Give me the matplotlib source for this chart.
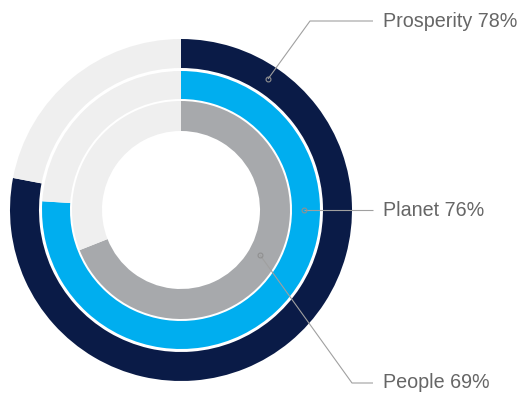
import matplotlib.pyplot as plt

# ring data (percent complete), outer -> inner
labels = ['Prosperity', 'Planet', 'People']
values = [78, 76, 69]
colors = ['#0a1b47', '#00aeef', '#a7a9ac']
rest_color = '#efefef'

# ring geometry in pixels (outer radius, width)
radii = [171, 139, 109]
widths = [29, 28, 30]

# label anchor points: (dot x, dot y), elbow points, text y
dots = [(268, 79), (304, 210), (260, 255)]
elbows = [(310, 21), (304, 210), (352, 383)]
text_y = [21, 210, 383]

W, H = 524, 394
fig = plt.figure(figsize=(W / 100, H / 100), dpi=100)
ax = fig.add_axes([0, 0, 1, 1])
cx, cy = 181, H - 210

for val, col, r, w in zip(values, colors, radii, widths):
    ax.pie([val, 100 - val], colors=[col, rest_color], radius=r, center=(cx, cy),
           startangle=90, counterclock=False,
           wedgeprops=dict(width=w, linewidth=0))

for lab, val, d, e, ty in zip(labels, values, dots, elbows, text_y):
    xs = [d[0], e[0], 373]
    ys = [H - d[1], H - e[1], H - ty]
    ax.plot(xs, ys, color='#a0a0a0', lw=0.8, solid_capstyle='butt')
    ax.plot(d[0], H - d[1], 'o', ms=3.5, mfc='none', mec='#909090', mew=0.8)
    ax.text(383, H - ty, f'{lab} {val}%', fontsize=14.2, color='#666666',
            family='Liberation Sans', ha='left', va='center')

ax.set_xlim(0, W)
ax.set_ylim(0, H)
ax.set_aspect('equal')
ax.axis('off')

fig.savefig('out.png', dpi=100)
